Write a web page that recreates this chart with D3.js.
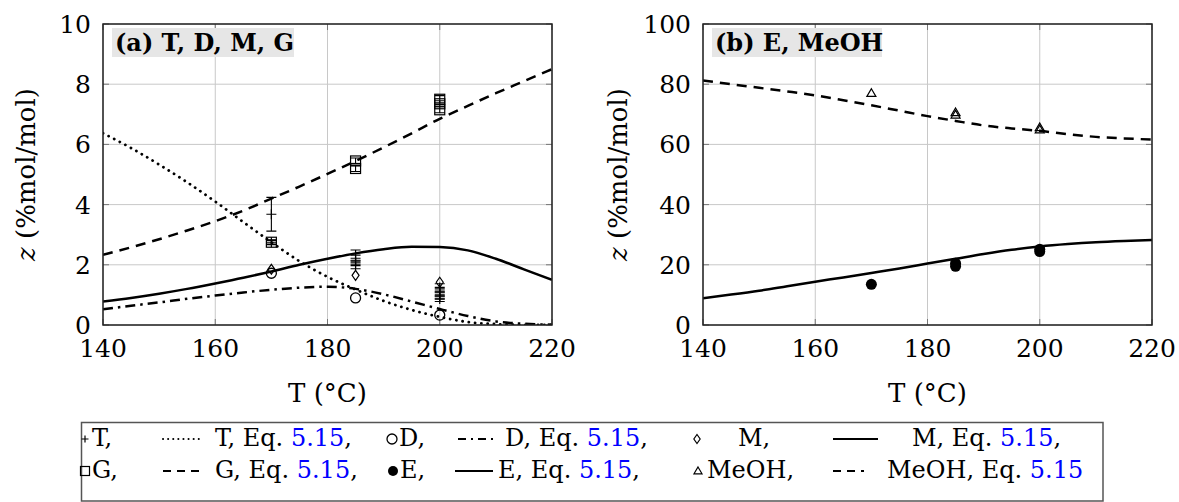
<!DOCTYPE html>
<html><head><meta charset="utf-8">
<script src="https://cdn.jsdelivr.net/npm/d3@7"></script>
<style>
html,body{margin:0;padding:0;background:#fff;}
svg{display:block;font-family:"DejaVu Serif",serif;}
</style></head>
<body><svg id="c" width="1179" height="502"></svg>
<script>
// ---------- data ----------
const tempGrid = [140,145,150,155,160,165,170,175,180,185,190,195,200,205,210,215,220];
const T_eq    = [6.37,5.88,5.33,4.74,4.10,3.42,2.75,2.12,1.60,1.18,0.80,0.50,0.27,0.10,0.03,0.005,0];
const D_eq    = [0.52,0.64,0.75,0.87,0.98,1.08,1.17,1.24,1.27,1.20,1.02,0.78,0.53,0.30,0.12,0.04,0.01];
const M_eq    = [0.78,0.90,1.04,1.20,1.38,1.57,1.78,2.00,2.20,2.38,2.52,2.60,2.59,2.48,2.20,1.85,1.50];
const G_eq    = [2.33,2.58,2.85,3.14,3.45,3.80,4.20,4.60,5.02,5.45,5.90,6.37,6.85,7.28,7.70,8.10,8.50];
const E_eq    = [8.9,10.1,11.4,12.9,14.4,15.8,17.3,18.8,20.4,22.0,23.6,25.0,26.1,26.9,27.5,27.9,28.2];
const MeOH_eq = [81.2,80.0,78.8,77.6,76.3,74.7,73.0,71.2,69.4,67.8,66.3,65.3,64.5,63.4,62.5,62.0,61.6];

const T_x = [170,170,185,185,185,200,200,200,200];
const T_y = [3.68,2.75,2.32,2.12,1.97,1.25,1.10,0.97,0.86];
const T_err = [0.56,0.06,0.17,0.10,0.10,0.12,0.10,0.10,0.08];
const D_x = [170,185,200];
const D_y = [1.72,0.90,0.33];
const M_x = [170,185,200];
const M_y = [1.85,1.65,1.42];
const G_x = [170,185,185,200,200,200];
const G_y = [2.75,5.45,5.20,7.50,7.35,7.15];
const G_err = [0.08,0.10,0.10,0.12,0.10,0.10];
const E_x = [170,185,185,200,200];
const E_y = [13.5,20.5,19.5,25.2,24.4];
const MeOH_x = [170,185,185,200,200];
const MeOH_y = [77.0,70.6,69.8,65.6,64.9];

const xTicks = [140,160,180,200,220];
const yTicksA = [0,2,4,6,8,10];
const yTicksB = [0,20,40,60,80,100];

// ---------- setup ----------
const svg = d3.select("#c");
const FONT = "DejaVu Serif";
const styles = {
  solid:   {dash:null, w:2.5, cap:"butt"},
  dashed:  {dash:"10 7", w:2.5, cap:"butt"},
  dotted:  {dash:"0.1 6.2", w:2.8, cap:"round"},
  dashdot: {dash:"10 5 2.5 5", w:2.5, cap:"butt"}
};

function marker(g, type, cx, cy, s) {
  const k = "#000";
  if (type === "plus") {
    g.append("path").attr("d", `M${cx-s},${cy}H${cx+s}M${cx},${cy-s}V${cy+s}`).attr("stroke",k).attr("stroke-width",1.2);
  } else if (type === "circle") {
    g.append("circle").attr("cx",cx).attr("cy",cy).attr("r",s).attr("fill","none").attr("stroke",k).attr("stroke-width",1.3);
  } else if (type === "dot") {
    g.append("circle").attr("cx",cx).attr("cy",cy).attr("r",s).attr("fill",k);
  } else if (type === "square") {
    g.append("rect").attr("x",cx-s).attr("y",cy-s).attr("width",2*s).attr("height",2*s).attr("fill","none").attr("stroke",k).attr("stroke-width",1.2);
  } else if (type === "diamond") {
    g.append("path").attr("d", `M${cx},${cy-s}L${cx+s*0.7},${cy}L${cx},${cy+s}L${cx-s*0.7},${cy}Z`).attr("fill","none").attr("stroke",k).attr("stroke-width",1.2);
  } else if (type === "triangle") {
    g.append("path").attr("d", `M${cx},${cy-s}L${cx+s},${cy+s*0.7}L${cx-s},${cy+s*0.7}Z`).attr("fill","none").attr("stroke",k).attr("stroke-width",1.2);
  }
}

function panel(opts) {
  const {left, right, top, bottom, ymax, yTicks, title, titleW, curves, points, yLabelX} = opts;
  const x = d3.scaleLinear().domain([140,220]).range([left,right]);
  const y = d3.scaleLinear().domain([0,ymax]).range([bottom,top]);
  const g = svg.append("g");
  const clipId = "clip" + left;
  svg.append("clipPath").attr("id",clipId).append("rect")
    .attr("x",left).attr("y",top).attr("width",right-left).attr("height",bottom-top);

  // grid
  g.selectAll(".gx").data(xTicks).join("line")
    .attr("x1",d=>x(d)).attr("x2",d=>x(d)).attr("y1",top).attr("y2",bottom)
    .attr("stroke","#c8c8c8").attr("stroke-width",1);
  g.selectAll(".gy").data(yTicks).join("line")
    .attr("y1",d=>y(d)).attr("y2",d=>y(d)).attr("x1",left).attr("x2",right)
    .attr("stroke","#c8c8c8").attr("stroke-width",1);
  // inner ticks
  const tk = g.append("g").attr("stroke","#777").attr("stroke-width",1);
  xTicks.forEach(t=>{
    tk.append("line").attr("x1",x(t)).attr("x2",x(t)).attr("y1",bottom).attr("y2",bottom-6);
    tk.append("line").attr("x1",x(t)).attr("x2",x(t)).attr("y1",top).attr("y2",top+6);
  });
  yTicks.forEach(t=>{
    tk.append("line").attr("y1",y(t)).attr("y2",y(t)).attr("x1",left).attr("x2",left+6);
    tk.append("line").attr("y1",y(t)).attr("y2",y(t)).attr("x1",right).attr("x2",right-6);
  });

  // title box
  g.append("rect").attr("x",left+9).attr("y",top+4).attr("width",titleW).attr("height",29).attr("fill","#e6e6e6");
  g.append("text").attr("x",left+12).attr("y",top+27).attr("font-family",FONT).attr("font-weight","bold")
    .attr("font-size",24).attr("fill","#000").text(title);

  // curves
  const line = d3.line().x(d=>x(d[0])).y(d=>y(d[1])).curve(d3.curveMonotoneX);
  const cg = g.append("g").attr("clip-path",`url(#${clipId})`);
  curves.forEach(c=>{
    const st = styles[c.style];
    cg.append("path").datum(tempGrid.map((t,i)=>[t,c.vals[i]]))
      .attr("d",line).attr("fill","none").attr("stroke","#000")
      .attr("stroke-width",st.w).attr("stroke-dasharray",st.dash).attr("stroke-linecap",st.cap);
  });

  // points
  const pg = g.append("g");
  points.forEach(p=>{
    p.xs.forEach((xv,i)=>{
      const cx = x(xv), cy = y(p.ys[i]);
      if (p.err) {
        const y1 = y(p.ys[i]-p.err[i]), y2 = y(p.ys[i]+p.err[i]);
        pg.append("path").attr("d",`M${cx},${y1}V${y2}M${cx-5},${y1}H${cx+5}M${cx-5},${y2}H${cx+5}`)
          .attr("stroke","#000").attr("stroke-width",1.1).attr("fill","none");
      }
      marker(pg, p.type, cx, cy, p.size);
    });
  });

  // frame
  g.append("rect").attr("x",left).attr("y",top).attr("width",right-left).attr("height",bottom-top)
    .attr("fill","none").attr("stroke","#222").attr("stroke-width",1.5);

  // tick labels
  g.selectAll(".xl").data(xTicks).join("text")
    .attr("x",d=>x(d)).attr("y",bottom+32).attr("text-anchor","middle")
    .attr("font-family",FONT).attr("font-size",25).attr("fill","#000").text(d=>d);
  g.selectAll(".yl").data(yTicks).join("text")
    .attr("x",left-12).attr("y",d=>y(d)+9).attr("text-anchor","end")
    .attr("font-family",FONT).attr("font-size",25).attr("fill","#000").text(d=>d);

  // axis labels
  g.append("text").attr("x",(left+right)/2).attr("y",402).attr("text-anchor","middle")
    .attr("font-family",FONT).attr("font-size",26).attr("fill","#000").text("T (°C)");
  const yl = g.append("text").attr("transform",`translate(${yLabelX},${(top+bottom)/2}) rotate(-90)`)
    .attr("text-anchor","middle").attr("font-family",FONT).attr("font-size",26).attr("fill","#000");
  yl.append("tspan").attr("font-style","italic").text("z");
  yl.append("tspan").text(" (%mol/mol)");
}

panel({left:103, right:552, top:24, bottom:325, ymax:10, yTicks:yTicksA,
  title:"(a) T, D, M, G", titleW:182, yLabelX:35,
  curves:[{vals:T_eq,style:"dotted"},{vals:D_eq,style:"dashdot"},{vals:M_eq,style:"solid"},{vals:G_eq,style:"dashed"}],
  points:[
    {xs:G_x, ys:G_y, err:G_err, type:"square", size:5},
    {xs:T_x, ys:T_y, err:T_err, type:"plus", size:5},
    {xs:D_x, ys:D_y, type:"circle", size:5},
    {xs:M_x, ys:M_y, type:"diamond", size:5}
  ]});

panel({left:703, right:1152, top:24, bottom:325, ymax:100, yTicks:yTicksB,
  title:"(b) E, MeOH", titleW:170, yLabelX:627,
  curves:[{vals:E_eq,style:"solid"},{vals:MeOH_eq,style:"dashed"}],
  points:[
    {xs:E_x, ys:E_y, type:"dot", size:5.5},
    {xs:MeOH_x, ys:MeOH_y, type:"triangle", size:4.5}
  ]});

// ---------- legend ----------
const legendRows = [
  [ {kind:"mark", type:"plus", mx:85, tx:92, label:"T,"},
    {kind:"line", style:"dotted", x1:163, x2:203, tx:215, label:"T, Eq. "},
    {kind:"mark", type:"circle", mx:392, tx:399, label:"D,"},
    {kind:"line", style:"dashdot", x1:458, x2:494, tx:505, label:"D, Eq. "},
    {kind:"mark", type:"diamond", mx:697, tx:738, label:"M,"},
    {kind:"line", style:"solid", x1:833, x2:878, tx:912, label:"M, Eq. "} ],
  [ {kind:"mark", type:"square", mx:85, tx:92, label:"G,"},
    {kind:"line", style:"dashed", x1:163, x2:201, tx:215, label:"G, Eq. "},
    {kind:"mark", type:"dot", mx:393, tx:400, label:"E,"},
    {kind:"line", style:"solid", x1:455, x2:493, tx:498, label:"E, Eq. "},
    {kind:"mark", type:"triangle", mx:698, tx:707, label:"MeOH,"},
    {kind:"line", style:"dashed", x1:833, x2:864, tx:887, label:"MeOH, Eq. ", last:true} ]
];
const eqRef = "5.15";
const lg = svg.append("g");
lg.append("rect").attr("x",81.5).attr("y",422.5).attr("width",1021.5).attr("height",78.5)
  .attr("fill","#fff").attr("stroke","#555").attr("stroke-width",1.5);
const rowBase = [446, 478];
const markSize = {plus:3.5, circle:5, diamond:4.5, square:4.5, dot:5, triangle:4};
legendRows.forEach((row,ri)=>{
  const b = rowBase[ri];
  const cy = b - 7;
  row.forEach(it=>{
    if (it.kind==="mark") {
      marker(lg, it.type, it.mx, cy, markSize[it.type]);
      lg.append("text").attr("x",it.tx).attr("y",b).attr("font-family",FONT).attr("font-size",24)
        .attr("fill","#000").text(it.label);
    } else {
      const st = styles[it.style];
      lg.append("line").attr("x1",it.x1).attr("x2",it.x2).attr("y1",cy).attr("y2",cy)
        .attr("stroke","#000").attr("stroke-width",it.style==="dotted"?2:2.2)
        .attr("stroke-dasharray", it.style==="dotted" ? "0.1 5" : (it.style==="dashed" ? "8 6" : (it.style==="dashdot" ? "8 5 2 5" : null)))
        .attr("stroke-linecap",st.cap);
      const t = lg.append("text").attr("x",it.tx).attr("y",b).attr("font-family",FONT).attr("font-size",24).attr("fill","#000");
      t.append("tspan").text(it.label);
      t.append("tspan").attr("fill","#0000ff").text(eqRef);
      if (!it.last) t.append("tspan").text(",");
    }
  });
});
</script></body></html>
